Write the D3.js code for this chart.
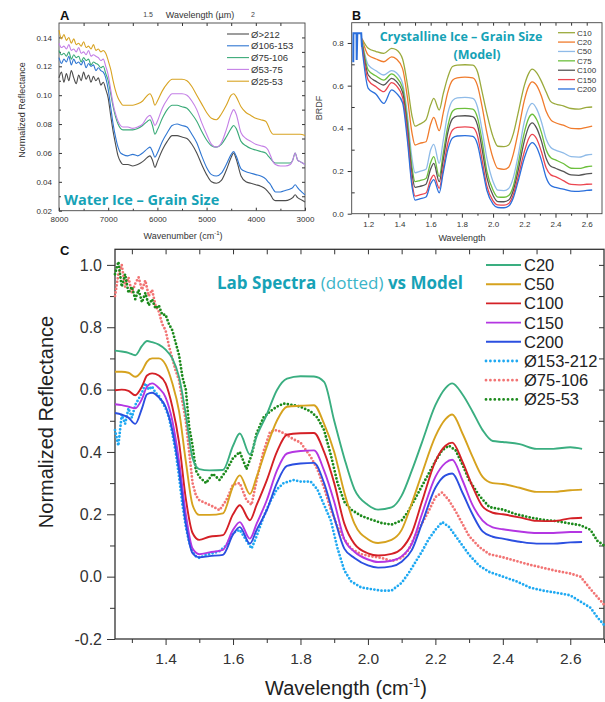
<!DOCTYPE html>
<html>
<head>
<meta charset="utf-8">
<script src="https://cdn.jsdelivr.net/npm/d3@7"></script>
<style>body{margin:0;background:#fff;}</style>
</head>
<body>
<script>
// ---------- Panel A : water ice, grain size (wavenumber cm-1)
var aWave = [8000,7950,7900,7850,7800,7750,7700,7650,7600,7550,7500,7450,7400,7350,7300,7250,7200,7150,7100,7050,7000,
  6950,6900,6850,6800,6750,6700,
  6600,6500,6400,6300,6200,
  6150,6100,6050,6000,
  5900,5800,5700,5600,5500,5400,5300,5200,5100,5000,
  4900,4800,4700,4600,4500,4450,4400,
  4300,4200,4100,4000,3900,3800,3750,3700,3650,3600,
  3500,3400,3300,3250,3200,3150,3100,3000];
var aGt212 = [0.112,0.116,0.109,0.115,0.110,0.117,0.112,0.108,0.114,0.110,0.116,0.111,0.114,0.109,0.113,0.110,0.112,0.107,0.109,0.104,0.098,
  0.086,0.075,0.066,0.058,0.054,0.052,
  0.052,0.051,0.052,0.054,0.057,
  0.058,0.055,0.050,0.054,
  0.062,0.068,0.072,0.072,0.071,0.070,0.066,0.060,0.052,0.045,
  0.040,0.039,0.041,0.048,0.057,0.060,0.056,
  0.044,0.040,0.039,0.038,0.037,0.035,0.033,0.031,0.028,0.027,
  0.027,0.027,0.028,0.029,0.031,0.029,0.028,0.026];
var a106 = [0.126,0.122,0.125,0.123,0.127,0.121,0.125,0.122,0.123,0.121,0.124,0.119,0.122,0.120,0.121,0.117,0.119,0.117,0.116,0.112,0.104,
  0.092,0.080,0.071,0.064,0.060,0.059,
  0.058,0.059,0.058,0.060,0.063,
  0.064,0.061,0.057,0.060,
  0.068,0.074,0.079,0.080,0.079,0.078,0.073,0.067,0.058,0.050,
  0.045,0.044,0.046,0.052,0.059,0.061,0.058,
  0.049,0.047,0.046,0.045,0.044,0.042,0.040,0.038,0.035,0.033,
  0.033,0.034,0.035,0.036,0.038,0.036,0.034,0.031];
var a75 = [0.131,0.128,0.129,0.127,0.130,0.125,0.128,0.126,0.127,0.123,0.126,0.124,0.125,0.121,0.123,0.122,0.121,0.119,0.120,0.115,0.110,
  0.101,0.092,0.085,0.080,0.077,0.076,
  0.076,0.076,0.077,0.079,0.082,
  0.083,0.079,0.073,0.076,
  0.084,0.090,0.093,0.093,0.092,0.091,0.087,0.082,0.075,0.069,
  0.065,0.064,0.066,0.071,0.077,0.079,0.077,
  0.068,0.065,0.063,0.062,0.061,0.060,0.058,0.056,0.054,0.053,
  0.053,0.053,0.053,0.055,0.060,0.055,0.054,0.052];
var a53 = [0.136,0.133,0.134,0.132,0.135,0.131,0.132,0.130,0.133,0.129,0.130,0.128,0.131,0.127,0.128,0.127,0.126,0.124,0.125,0.120,0.114,
  0.104,0.094,0.087,0.082,0.079,0.078,
  0.078,0.077,0.078,0.080,0.085,
  0.086,0.083,0.079,0.082,
  0.091,0.097,0.101,0.101,0.101,0.100,0.096,0.090,0.081,0.073,
  0.066,0.064,0.067,0.076,0.087,0.090,0.087,
  0.074,0.070,0.068,0.066,0.065,0.064,0.062,0.058,0.054,0.052,
  0.051,0.051,0.052,0.055,0.060,0.055,0.054,0.052];
var a25 = [0.145,0.139,0.142,0.138,0.140,0.136,0.139,0.135,0.136,0.134,0.137,0.133,0.134,0.132,0.135,0.131,0.132,0.130,0.131,0.129,0.124,
  0.118,0.110,0.103,0.098,0.095,0.093,
  0.093,0.093,0.094,0.096,0.100,
  0.101,0.098,0.093,0.096,
  0.103,0.108,0.111,0.111,0.111,0.110,0.106,0.100,0.094,0.088,
  0.084,0.083,0.087,0.093,0.100,0.101,0.099,
  0.092,0.088,0.086,0.084,0.083,0.082,0.079,0.075,0.073,0.073,
  0.073,0.073,0.073,0.073,0.073,0.073,0.073,0.072];
var aNames = ["Ø>212", "Ø106-153", "Ø75-106", "Ø53-75", "Ø25-53"];
var aColors = ["#4d4d4d", "#2f76d2", "#3aaa78", "#c47fe6", "#d8a322"];
var aXTicks = [8000, 7000, 6000, 5000, 4000, 3000];
var aYTicks = [0.02, 0.04, 0.06, 0.08, 0.10, 0.12, 0.14];

// ---------- Panel B : crystalline ice model (BRDF)
var bWave = [1.16,1.2,1.25,1.3,1.35,1.38,1.42,1.45,1.48,1.5,1.53,1.57,1.6,1.62,1.655,1.68,1.71,1.74,1.77,1.82,
  1.87,1.9,1.93,1.96,2.0,2.03,2.07,2.1,2.13,2.16,2.2,2.23,2.25,2.28,2.31,2.34,2.37,2.4,2.45,2.5,2.55,2.6,2.635];
var bC10 = [0.82,0.775,0.76,0.751,0.775,0.768,0.725,0.61,0.46,0.41,0.42,0.44,0.51,0.54,0.486,0.56,0.64,0.69,0.696,0.698,
  0.696,0.665,0.57,0.47,0.36,0.316,0.314,0.322,0.375,0.47,0.6,0.66,0.677,0.66,0.62,0.57,0.525,0.514,0.505,0.493,0.49,0.498,0.50];
var bC20 = [0.82,0.743,0.725,0.712,0.735,0.725,0.68,0.55,0.38,0.322,0.33,0.337,0.42,0.451,0.389,0.47,0.57,0.625,0.636,0.64,
  0.636,0.6,0.5,0.38,0.26,0.212,0.208,0.218,0.28,0.38,0.53,0.6,0.618,0.6,0.55,0.48,0.44,0.426,0.415,0.40,0.398,0.405,0.41];
var bC50 = [0.81,0.697,0.67,0.65,0.67,0.66,0.61,0.47,0.26,0.192,0.198,0.208,0.3,0.325,0.236,0.34,0.47,0.53,0.543,0.545,
  0.54,0.5,0.39,0.26,0.15,0.11,0.108,0.118,0.17,0.27,0.43,0.5,0.517,0.49,0.43,0.35,0.31,0.298,0.285,0.267,0.265,0.275,0.278];
var bC75 = [0.81,0.673,0.645,0.626,0.655,0.64,0.59,0.44,0.22,0.15,0.155,0.165,0.24,0.267,0.174,0.28,0.41,0.48,0.492,0.494,
  0.49,0.45,0.34,0.2,0.11,0.078,0.077,0.085,0.13,0.23,0.38,0.45,0.466,0.44,0.38,0.3,0.262,0.252,0.235,0.213,0.212,0.22,0.223];
var bC100 = [0.80,0.65,0.62,0.603,0.634,0.62,0.57,0.41,0.19,0.123,0.128,0.138,0.21,0.236,0.15,0.25,0.38,0.445,0.457,0.459,
  0.455,0.415,0.3,0.17,0.085,0.057,0.056,0.064,0.11,0.2,0.34,0.41,0.426,0.40,0.34,0.26,0.222,0.213,0.198,0.182,0.18,0.187,0.189];
var bC150 = [0.79,0.626,0.595,0.572,0.614,0.60,0.545,0.38,0.15,0.082,0.088,0.097,0.16,0.181,0.119,0.21,0.33,0.392,0.404,0.407,
  0.403,0.365,0.25,0.13,0.06,0.041,0.04,0.048,0.09,0.17,0.29,0.355,0.372,0.35,0.29,0.215,0.182,0.174,0.155,0.137,0.135,0.138,0.139];
var bC200 = [0.78,0.587,0.56,0.517,0.58,0.565,0.52,0.35,0.13,0.064,0.07,0.078,0.14,0.16,0.098,0.19,0.3,0.355,0.364,0.366,
  0.362,0.325,0.22,0.11,0.045,0.029,0.028,0.036,0.075,0.15,0.26,0.318,0.333,0.31,0.25,0.17,0.132,0.123,0.115,0.106,0.105,0.109,0.111];
var bSpikeWave = [1.104, 1.105, 1.125, 1.126, 1.13, 1.155, 1.16];
var bSpikeVal = [0.71, 0.845, 0.845, 0.72, 0.845, 0.845, 0.78];
var bNames = ["C10", "C20", "C50", "C75", "C100", "C150", "C200"];
var bColors = ["#9aaa3c", "#f07b2c", "#8fbbe8", "#6cbf3c", "#555555", "#ec4650", "#2b6fdc"];
var bXTicks = [1.2, 1.4, 1.6, 1.8, 2.0, 2.2, 2.4, 2.6];
var bYTicks = [0.0, 0.2, 0.4, 0.6, 0.8];

// ---------- Panel C : lab spectra vs model
var cWave = [1.25,1.27,1.29,1.31,1.33,1.345,1.36,1.38,1.40,1.42,1.44,1.46,1.48,1.50,1.53,1.57,1.60,1.62,1.65,1.67,
  1.70,1.73,1.76,1.80,1.84,1.87,1.90,1.93,1.96,2.00,2.03,2.07,2.10,2.13,2.16,2.20,2.23,2.25,2.28,2.31,
  2.34,2.37,2.40,2.45,2.50,2.55,2.60,2.635];
var mC20 = [0.725,0.722,0.718,0.71,0.74,0.756,0.752,0.744,0.728,0.70,0.64,0.52,0.38,0.345,0.341,0.342,0.42,0.459,0.392,0.45,
  0.52,0.598,0.635,0.643,0.642,0.625,0.50,0.38,0.28,0.23,0.215,0.222,0.26,0.34,0.43,0.55,0.605,0.62,0.585,0.53,
  0.47,0.435,0.432,0.425,0.41,0.41,0.415,0.41];
var mC50 = [0.657,0.657,0.654,0.641,0.66,0.69,0.70,0.70,0.68,0.62,0.53,0.37,0.23,0.198,0.198,0.203,0.29,0.325,0.265,0.32,
  0.416,0.50,0.545,0.548,0.55,0.49,0.40,0.27,0.17,0.12,0.108,0.118,0.15,0.235,0.33,0.45,0.505,0.52,0.46,0.385,
  0.32,0.30,0.297,0.285,0.272,0.272,0.277,0.279];
var mC100 = [0.598,0.60,0.596,0.582,0.61,0.645,0.652,0.645,0.62,0.545,0.43,0.25,0.14,0.118,0.128,0.133,0.20,0.229,0.181,0.23,
  0.309,0.40,0.455,0.46,0.461,0.40,0.30,0.17,0.105,0.075,0.068,0.073,0.09,0.14,0.24,0.37,0.42,0.43,0.37,0.29,
  0.225,0.205,0.20,0.19,0.179,0.178,0.187,0.189];
var mC150 = [0.553,0.55,0.545,0.54,0.57,0.61,0.62,0.605,0.575,0.50,0.37,0.20,0.09,0.072,0.078,0.086,0.15,0.175,0.122,0.17,
  0.245,0.34,0.395,0.403,0.405,0.34,0.24,0.12,0.08,0.055,0.047,0.051,0.065,0.105,0.20,0.32,0.365,0.375,0.31,0.23,
  0.18,0.158,0.152,0.145,0.14,0.14,0.143,0.143];
var mC200 = [0.525,0.52,0.51,0.49,0.54,0.585,0.59,0.575,0.545,0.47,0.34,0.17,0.075,0.062,0.066,0.07,0.135,0.159,0.106,0.15,
  0.213,0.30,0.355,0.363,0.365,0.30,0.19,0.09,0.06,0.036,0.029,0.033,0.048,0.085,0.17,0.285,0.325,0.331,0.27,0.20,
  0.145,0.128,0.122,0.112,0.106,0.106,0.11,0.111];

var dWave = [1.25,1.26,1.27,1.28,1.29,1.30,1.31,1.32,1.33,1.34,1.35,1.36,1.37,1.38,1.39,1.40,1.41,1.42,1.43,1.44,1.45,1.46,1.47,1.48,1.49,1.50,
  1.52,1.54,1.56,1.58,1.60,1.62,1.64,1.655,1.67,1.69,1.71,1.73,1.75,1.78,1.80,1.83,1.85,1.87,1.89,1.91,1.93,1.95,1.98,2.01,
  2.04,2.07,2.10,2.12,2.14,2.16,2.18,2.20,2.22,2.24,2.26,2.28,2.30,2.33,2.36,2.40,2.44,2.48,2.52,2.56,2.60,2.63,2.66,2.68,2.70];
var lab153 = [0.47,0.42,0.52,0.49,0.54,0.51,0.55,0.57,0.59,0.62,0.60,0.61,0.59,0.58,0.56,0.54,0.51,0.46,0.40,0.32,0.23,0.16,0.11,0.08,0.065,0.06,
  0.07,0.075,0.082,0.10,0.14,0.15,0.115,0.09,0.13,0.19,0.24,0.28,0.30,0.31,0.305,0.305,0.28,0.23,0.18,0.09,0.02,-0.015,-0.035,-0.04,
  -0.045,-0.045,-0.02,0.01,0.045,0.08,0.12,0.15,0.175,0.16,0.13,0.10,0.07,0.035,0.015,0.0,-0.015,-0.035,-0.045,-0.052,-0.06,-0.08,-0.10,-0.13,-0.155];
var lab75 = [0.90,0.97,1.00,0.93,0.96,0.91,0.94,0.96,0.92,0.95,0.90,0.92,0.87,0.85,0.81,0.79,0.74,0.70,0.66,0.63,0.56,0.50,0.40,0.30,0.26,0.245,
  0.235,0.225,0.213,0.245,0.295,0.30,0.245,0.23,0.31,0.40,0.465,0.47,0.46,0.44,0.43,0.385,0.345,0.285,0.215,0.16,0.12,0.09,0.072,0.065,
  0.06,0.05,0.06,0.085,0.13,0.17,0.21,0.255,0.27,0.245,0.21,0.17,0.13,0.095,0.072,0.062,0.05,0.038,0.028,0.018,0.01,0.0,-0.04,-0.065,-0.09];
var lab25 = [0.97,1.01,0.93,0.97,0.91,0.93,0.89,0.92,0.88,0.91,0.87,0.89,0.86,0.87,0.84,0.84,0.81,0.79,0.75,0.71,0.64,0.60,0.48,0.42,0.34,0.32,
  0.30,0.33,0.31,0.34,0.38,0.40,0.345,0.39,0.46,0.51,0.53,0.545,0.555,0.55,0.545,0.53,0.51,0.47,0.39,0.30,0.24,0.215,0.195,0.183,
  0.172,0.167,0.18,0.21,0.25,0.29,0.33,0.37,0.405,0.42,0.405,0.36,0.31,0.26,0.223,0.215,0.20,0.19,0.182,0.178,0.17,0.165,0.15,0.115,0.10];
var cNames = ["C20", "C50", "C100", "C150", "C200", "Ø153-212", "Ø75-106", "Ø25-53"];
var cColors = ["#3aae80", "#d6a21e", "#d42026", "#b436e2", "#2b4fe0", "#1fa9f2", "#f27474", "#1c8a1c"];
var cXTicks = [1.4, 1.6, 1.8, 2.0, 2.2, 2.4, 2.6];
var cYTicks = [-0.2, 0.0, 0.2, 0.4, 0.6, 0.8, 1.0];

var sans = "'Liberation Sans', Arial, sans-serif";
var teal = "#16a2b6";

var svg = d3.select("body").append("svg")
  .attr("width", 605).attr("height", 702)
  .style("font-family", sans);

function pairs(xs, ys) {
  return xs.map(function(x, i) { return [x, ys[i]]; });
}

function tidy(g, size, color) {
  g.select(".domain").remove();
  g.selectAll("line").attr("stroke", "#333");
  g.selectAll("text").attr("font-size", size).attr("fill", color).attr("font-family", sans);
}

function range(a, b, step) {
  var out = [];
  for (var v = a; v <= b + 1e-9; v += step) out.push(+v.toFixed(4));
  return out;
}

// ================= Panel A =================
var xA = d3.scaleLinear().domain([8000, 3000]).range([59, 305]);
var yA = d3.scaleLinear().domain([0.02, 0.15]).range([210.7, 23]);
var lineA = d3.line().x(function(d){return xA(d[0]);}).y(function(d){return yA(d[1]);}).curve(d3.curveMonotoneX);

svg.append("g").attr("transform", "translate(0,210.7)")
  .call(d3.axisBottom(xA).tickValues(aXTicks).tickSize(-3).tickPadding(6).tickFormat(d3.format("d")))
  .call(tidy, 8, "#333");
svg.append("g").attr("transform", "translate(0,210.7)")
  .call(d3.axisBottom(xA).tickValues(range(3500, 7500, 1000)).tickSize(-2).tickFormat(""))
  .call(tidy, 8, "#333");
svg.append("g").attr("transform", "translate(59,0)")
  .call(d3.axisLeft(yA).tickValues(aYTicks).tickSize(-3).tickPadding(7).tickFormat(function(d){return d.toFixed(2);}))
  .call(tidy, 8, "#333");
svg.append("g").attr("transform", "translate(59,0)")
  .call(d3.axisLeft(yA).tickValues([0.03,0.05,0.07,0.09,0.11,0.13]).tickSize(-2).tickFormat(""))
  .call(tidy, 8, "#333");
svg.append("g").attr("transform", "translate(0,23)")
  .call(d3.axisTop(xA).tickValues(range(3500, 7500, 500)).tickSize(-3).tickFormat(""))
  .call(tidy, 8, "#333");
svg.append("g").attr("transform", "translate(305,0)")
  .call(d3.axisRight(yA).tickValues(range(0.03, 0.14, 0.01)).tickSize(-3).tickFormat(""))
  .call(tidy, 8, "#333");
svg.append("rect").attr("x", 59).attr("y", 23).attr("width", 246).attr("height", 187.7)
  .attr("fill", "none").attr("stroke", "#444").attr("stroke-width", 0.9);

[aGt212, a106, a75, a53, a25].forEach(function(s, i) {
  svg.append("path").datum(pairs(aWave, s)).attr("d", lineA)
    .attr("fill", "none").attr("stroke", aColors[i]).attr("stroke-width", 1.1);
});

aNames.forEach(function(n, i) {
  var y = 34 + i * 11.8;
  svg.append("line").attr("x1", 227).attr("x2", 249).attr("y1", y).attr("y2", y)
    .attr("stroke", aColors[i]).attr("stroke-width", 1.1);
  svg.append("text").attr("x", 251).attr("y", y + 3.5).attr("font-size", 9.5).attr("fill", "#333").text(n);
});

svg.append("text").attr("x", 60).attr("y", 19.5).attr("font-size", 13).attr("font-weight", "bold").attr("fill", "#111").text("A");
svg.append("text").attr("x", 148).attr("y", 17).attr("font-size", 7).attr("fill", "#444").attr("text-anchor", "middle").text("1.5");
svg.append("text").attr("x", 200).attr("y", 17.5).attr("font-size", 9).attr("fill", "#333").attr("text-anchor", "middle").text("Wavelength (µm)");
svg.append("text").attr("x", 253).attr("y", 17).attr("font-size", 7).attr("fill", "#444").attr("text-anchor", "middle").text("2");
svg.append("text").attr("transform", "translate(25,110) rotate(-90)").attr("text-anchor", "middle")
  .attr("font-size", 9).attr("fill", "#333").text("Normalized Reflectance");
var aXl = svg.append("text").attr("x", 183).attr("y", 239).attr("text-anchor", "middle").attr("font-size", 9).attr("fill", "#333");
aXl.append("tspan").text("Wavenumber (cm");
aXl.append("tspan").attr("dy", -4).attr("font-size", 6).text("-1");
aXl.append("tspan").attr("dy", 4).text(")");
svg.append("text").attr("x", 64).attr("y", 205).attr("font-size", 14.5).attr("font-weight", "bold")
  .attr("font-family", "'Open Sans', sans-serif").attr("fill", teal).text("Water Ice – Grain Size");

// ================= Panel B =================
var xB = d3.scaleLinear().domain([1.094, 2.698]).range([351.7, 602]);
var yB = d3.scaleLinear().domain([0, 0.895]).range([213.7, 22.7]);
var lineB = d3.line().x(function(d){return xB(d[0]);}).y(function(d){return yB(d[1]);}).curve(d3.curveMonotoneX);

svg.append("g").attr("transform", "translate(0,213.7)")
  .call(d3.axisBottom(xB).tickValues(bXTicks).tickSize(4).tickPadding(4).tickFormat(function(d){return d.toFixed(1);}))
  .call(tidy, 8, "#333");
svg.append("g").attr("transform", "translate(0,213.7)")
  .call(d3.axisBottom(xB).tickValues(range(1.3, 2.5, 0.2)).tickSize(2).tickFormat(""))
  .call(tidy, 8, "#333");
svg.append("g").attr("transform", "translate(351.7,0)")
  .call(d3.axisLeft(yB).tickValues(bYTicks).tickSize(4).tickPadding(4).tickFormat(function(d){return d.toFixed(1);}))
  .call(tidy, 8, "#333");
svg.append("g").attr("transform", "translate(351.7,0)")
  .call(d3.axisLeft(yB).tickValues([0.1, 0.3, 0.5, 0.7]).tickSize(-3).tickFormat(""))
  .call(tidy, 8, "#333");
svg.append("g").attr("transform", "translate(0,22.7)")
  .call(d3.axisTop(xB).tickValues(range(1.2, 2.6, 0.1)).tickSize(-3).tickFormat(""))
  .call(tidy, 8, "#333");
svg.append("rect").attr("x", 351.7).attr("y", 22.7).attr("width", 250.3).attr("height", 191)
  .attr("fill", "none").attr("stroke", "#444").attr("stroke-width", 0.9);

[bC10, bC20, bC50, bC75, bC100, bC150, bC200].forEach(function(s, i) {
  svg.append("path").datum(pairs(bWave, s)).attr("d", lineB)
    .attr("fill", "none").attr("stroke", bColors[i]).attr("stroke-width", 1.3);
});
svg.append("path").datum(pairs(bSpikeWave, bSpikeVal))
  .attr("d", d3.line().x(function(d){return xB(d[0]);}).y(function(d){return yB(d[1]);}))
  .attr("fill", "none").attr("stroke", bColors[6]).attr("stroke-width", 2);

bNames.forEach(function(n, i) {
  var y = 32.7 + i * 9.38;
  svg.append("line").attr("x1", 558).attr("x2", 575).attr("y1", y).attr("y2", y)
    .attr("stroke", bColors[i]).attr("stroke-width", 1.3);
  svg.append("text").attr("x", 577).attr("y", y + 3).attr("font-size", 8).attr("fill", "#333").text(n);
});

svg.append("text").attr("x", 352).attr("y", 19.5).attr("font-size", 12.5).attr("font-weight", "bold").attr("fill", "#111").text("B");
svg.append("text").attr("x", 461).attr("y", 40.5).attr("text-anchor", "middle").attr("font-size", 12.5)
  .attr("font-weight", "bold").attr("font-family", "'Open Sans', sans-serif").attr("fill", teal)
  .text("Crystalline Ice – Grain Size");
svg.append("text").attr("x", 477).attr("y", 59).attr("text-anchor", "middle").attr("font-size", 12.5)
  .attr("font-weight", "bold").attr("font-family", "'Open Sans', sans-serif").attr("fill", teal)
  .text("(Model)");
svg.append("text").attr("transform", "translate(322,108) rotate(-90)").attr("text-anchor", "middle")
  .attr("font-size", 9).attr("fill", "#444").text("BRDF");
svg.append("text").attr("x", 462).attr("y", 241).attr("text-anchor", "middle").attr("font-size", 9)
  .attr("fill", "#333").text("Wavelength");

// ================= Panel C =================
var xC = d3.scaleLinear().domain([1.25, 2.70]).range([115, 604]);
var yC = d3.scaleLinear().domain([-0.2, 1.05]).range([639, 249.3]);
var lineC = d3.line().x(function(d){return xC(d[0]);}).y(function(d){return yC(d[1]);}).curve(d3.curveMonotoneX);
var lineD = d3.line().x(function(d){return xC(d[0]);}).y(function(d){return yC(d[1]);});

svg.append("g").attr("transform", "translate(0,639)")
  .call(d3.axisBottom(xC).tickValues(cXTicks).tickSize(6).tickPadding(8).tickFormat(function(d){return d.toFixed(1);}))
  .call(tidy, 15.5, "#333");
svg.append("g").attr("transform", "translate(0,639)")
  .call(d3.axisBottom(xC).tickValues(range(1.3, 2.7, 0.2)).tickSize(4).tickFormat(""))
  .call(tidy, 15, "#333");
svg.append("g").attr("transform", "translate(115,0)")
  .call(d3.axisLeft(yC).tickValues(cYTicks).tickSize(8).tickPadding(5).tickFormat(function(d){return d.toFixed(1);}))
  .call(tidy, 16, "#333");
svg.append("g").attr("transform", "translate(115,0)")
  .call(d3.axisLeft(yC).tickValues(range(-0.1, 0.9, 0.2)).tickSize(5).tickFormat(""))
  .call(tidy, 15, "#333");
svg.append("g").attr("transform", "translate(0,249.3)")
  .call(d3.axisTop(xC).tickValues(range(1.3, 2.6, 0.1)).tickSize(-5).tickFormat(""))
  .call(tidy, 15, "#333");
svg.append("g").attr("transform", "translate(604,0)")
  .call(d3.axisRight(yC).tickValues(range(-0.1, 1.0, 0.1)).tickSize(-5).tickFormat(""))
  .call(tidy, 15, "#333");
svg.append("rect").attr("x", 115).attr("y", 249.3).attr("width", 489).attr("height", 389.7)
  .attr("fill", "none").attr("stroke", "#333").attr("stroke-width", 1.3);

// lab spectra (dotted) first, model lines on top
[lab153, lab75, lab25].forEach(function(s, i) {
  svg.append("path").datum(pairs(dWave, s)).attr("d", lineD)
    .attr("fill", "none").attr("stroke", cColors[5 + i]).attr("stroke-width", 2.8)
    .attr("stroke-linecap", "round").attr("stroke-dasharray", "0 3.6");
});
[mC20, mC50, mC100, mC150, mC200].forEach(function(s, i) {
  svg.append("path").datum(pairs(cWave, s)).attr("d", lineC)
    .attr("fill", "none").attr("stroke", cColors[i]).attr("stroke-width", 1.9);
});

cNames.forEach(function(n, i) {
  var y = 265 + i * 19.2;
  var ln = svg.append("line").attr("x1", 486).attr("x2", 521).attr("y1", y).attr("y2", y)
    .attr("stroke", cColors[i]);
  if (i >= 5) {
    ln.attr("stroke-width", 2.8).attr("stroke-linecap", "round").attr("stroke-dasharray", "0 4.4");
  } else {
    ln.attr("stroke-width", 1.9);
  }
  svg.append("text").attr("x", 524).attr("y", y + 6).attr("font-size", 16.5).attr("fill", "#222").text(n);
});

svg.append("text").attr("x", 60).attr("y", 255).attr("font-size", 13).attr("font-weight", "bold").attr("fill", "#111").text("C");
var cT = svg.append("text").attr("x", 217).attr("y", 289).attr("font-size", 17)
  .attr("font-family", "'Open Sans', sans-serif").attr("fill", teal);
cT.append("tspan").attr("font-weight", "bold").text("Lab Spectra ");
cT.append("tspan").attr("font-weight", "normal").attr("fill", "#3ab4c8").text("(dotted) ");
cT.append("tspan").attr("font-weight", "bold").text("vs Model");
svg.append("text").attr("transform", "translate(53,422) rotate(-90)").attr("text-anchor", "middle")
  .attr("font-size", 20).attr("fill", "#222").text("Normalized Reflectance");
var cXl = svg.append("text").attr("x", 346).attr("y", 695).attr("text-anchor", "middle").attr("font-size", 20).attr("fill", "#222");
cXl.append("tspan").text("Wavelength (cm");
cXl.append("tspan").attr("dy", -8).attr("font-size", 13).text("-1");
cXl.append("tspan").attr("dy", 8).text(")");
</script>
</body>
</html>
